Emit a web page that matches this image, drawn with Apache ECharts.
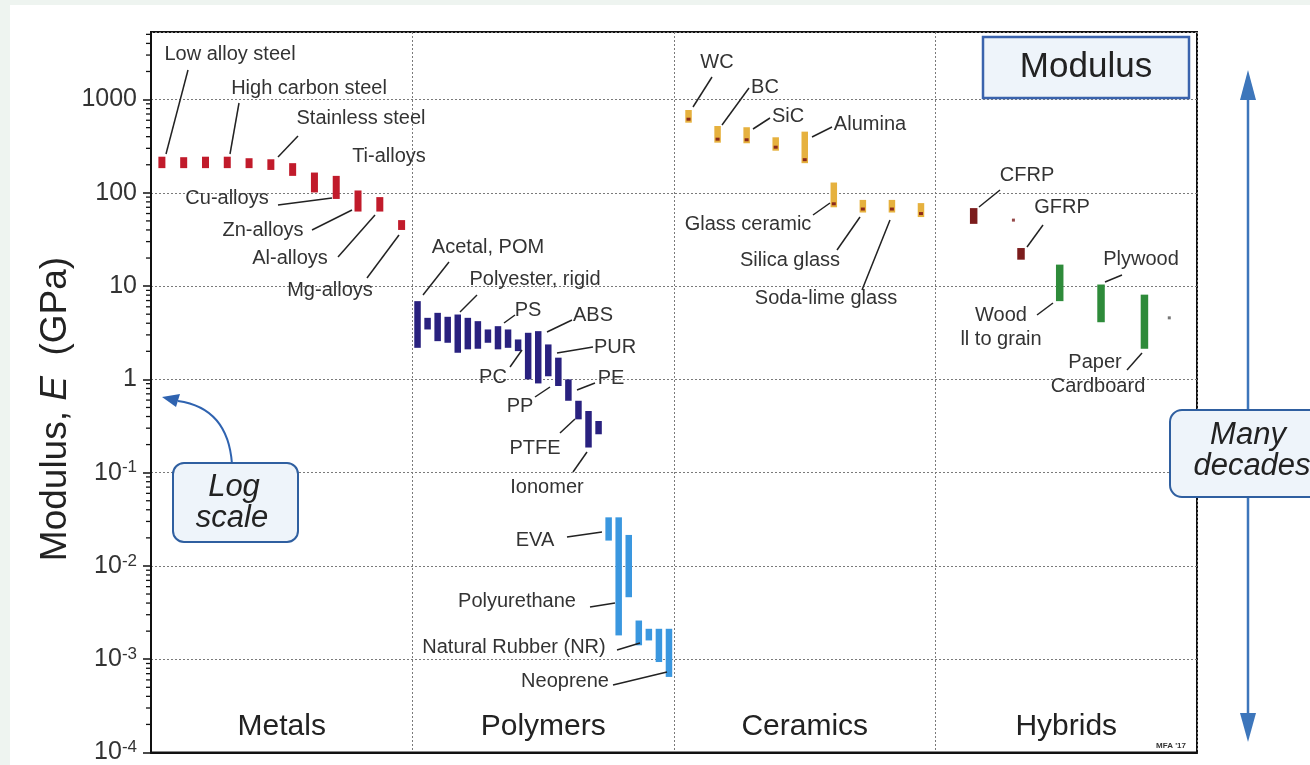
<!DOCTYPE html>
<html><head><meta charset="utf-8">
<script src="https://cdn.jsdelivr.net/npm/echarts@6.0.0/dist/echarts.min.js"></script>
<style>html,body{margin:0;padding:0;background:#fff}#c{width:1310px;height:765px}</style>
</head><body><div id="c"></div>
<script>
// ---------- DATA (Young's modulus E, GPa: low / high of each bar) ----------
const groups = ['Metals', 'Polymers', 'Ceramics', 'Hybrids'];

const metalNames = ['Low alloy steel', 'Carbon steel', 'Cast steel', 'High carbon steel', 'Tool steel', 'Stainless steel',
  'Ni-alloys', 'Ti-alloys', 'Cu-alloys', 'Zn-alloys', 'Al-alloys', 'Mg-alloys'];
const metalLow  = [184, 184, 184, 184, 184, 176, 152, 101, 86, 63, 63, 40];
const metalHigh = [244, 241, 244, 244, 235, 229, 208, 165, 152, 106, 90, 51];

const polymerNames = ['Acetal, POM', 'PA', 'PET', 'Polyester, rigid', 'Epoxy', 'PMMA', 'Phenolic', 'PVC', 'PS', 'PBT',
  'PC', 'ABS', 'PPS', 'PUR', 'PP', 'PE-HD', 'PE', 'PTFE', 'Ionomer'];
const polymerLow  = [2.18, 3.43, 2.57, 2.47, 1.93, 2.10, 2.13, 2.47, 2.10, 2.18, 2.01, 1.0, 0.905, 1.08, 0.85, 0.59, 0.373, 0.186, 0.258];
const polymerHigh = [6.9, 4.57, 5.17, 4.69, 4.96, 4.57, 4.21, 3.43, 3.72, 3.43, 2.68, 3.16, 3.29, 2.37, 1.71, 1.0, 0.59, 0.458, 0.358];

const elastomerNames = ['EVA', 'Polyurethane', 'Silicone', 'Natural Rubber (NR)', 'Butyl rubber', 'Isoprene', 'Neoprene'];
const elastomerLow  = [0.0187, 0.0018, 0.00462, 0.00141, 0.00159, 0.000933, 0.000646];
const elastomerHigh = [0.0332, 0.0332, 0.0215, 0.0026, 0.00212, 0.00212, 0.00212];

const ceramicNames = ['WC', 'BC', 'SiC', 'Si3N4', 'Alumina', 'Glass ceramic', 'Silica glass', 'Soda-lime glass', 'Borosilicate glass'];
const ceramicLow  = [565, 345, 340, 283, 208, 70, 61.5, 61.5, 55];
const ceramicHigh = [773, 521, 505, 394, 453, 129, 84, 84, 77.6];

const compositeNames = ['CFRP', 'GFRP'];
const compositeLow  = [46.5, 19.2];
const compositeHigh = [68.6, 25.6];
const compositeSlot = [0.146, 0.327];      // order within the Hybrids column

const naturalNames = ['Wood II to grain', 'Plywood', 'Paper, Cardboard'];
const naturalLow  = [6.9, 4.1, 2.13];
const naturalHigh = [17, 10.4, 8.1];
const naturalSlot = [0.475, 0.633, 0.799];

const hybridDotNames = ['SMC', 'Cork'];
const hybridDotValue = [51, 4.57];
const hybridDotSlot  = [0.298, 0.894];

// ---------- helpers ----------
const FONT = '"Liberation Sans", Arial, sans-serif';
function bars(names, low, high, groupIdx, slots, n, offset) {
  return low.map((lo, i) => ({
    name: names[i],
    value: [groupIdx + (slots ? slots[i] : ((offset || 0) + i + 0.5) / n), lo, high[i]]
  }));
}
function barRenderer(color, width, marker) {
  return function (params, api) {
    const x = api.value(0), lo = api.value(1), hi = api.value(2);
    const top = api.coord([x, hi]), bot = api.coord([x, lo]);
    const h = Math.max(bot[1] - top[1], 3);
    const children = [{ type: 'rect', shape: { x: top[0] - width / 2, y: top[1], width: width, height: h }, style: { fill: color } }];
    if (marker) children.push({ type: 'rect', shape: { x: top[0] - 2, y: top[1] + h - 5, width: 4, height: 3 }, style: { fill: marker } });
    return { type: 'group', children: children };
  };
}
function customBars(name, data, color, width, marker) {
  return { type: 'custom', name: name, data: data, encode: { x: 0, y: [1, 2] }, renderItem: barRenderer(color, width, marker), z: 5 };
}
const minorTicks = [];
for (let d = -4; d <= 3; d++) for (let k = 2; k <= 9; k++) { const v = k * Math.pow(10, d); if (v < 5300) minorTicks.push(v); }

// ---------- annotations (label text, centre, leader line) ----------
const annotations = [
  ['Low alloy steel', 230, 54, [188, 70, 166, 154]],
  ['High carbon steel', 309, 88, [239, 103, 230, 154]],
  ['Stainless steel', 361, 118, [298, 136, 278, 157]],
  ['Ti-alloys', 389, 156, null],
  ['Cu-alloys', 227, 198, [278, 205, 332, 198]],
  ['Zn-alloys', 263, 230, [312, 230, 352, 210]],
  ['Al-alloys', 290, 258, [338, 257, 375, 215]],
  ['Mg-alloys', 330, 290, [367, 278, 399, 235]],
  ['Acetal, POM', 488, 247, [449, 262, 423, 295]],
  ['Polyester, rigid', 535, 279, [477, 295, 460, 312]],
  ['PS', 528, 310, [515, 315, 504, 323]],
  ['ABS', 593, 315, [572, 320, 547, 332]],
  ['PUR', 615, 347, [593, 347, 557, 353]],
  ['PC', 493, 377, [510, 367, 522, 350]],
  ['PE', 611, 378, [595, 383, 577, 390]],
  ['PP', 520, 406, [535, 397, 550, 387]],
  ['PTFE', 535, 448, [560, 433, 575, 419]],
  ['Ionomer', 547, 487, [573, 472, 587, 452]],
  ['EVA', 535, 540, [567, 537, 602, 532]],
  ['Polyurethane', 517, 601, [590, 607, 615, 603]],
  ['Natural Rubber (NR)', 514, 647, [617, 650, 640, 643]],
  ['Neoprene', 565, 681, [613, 685, 667, 672]],
  ['WC', 717, 62, [712, 77, 693, 107]],
  ['BC', 765, 87, [749, 88, 722, 125]],
  ['SiC', 788, 116, [770, 118, 753, 129]],
  ['Alumina', 870, 124, [832, 127, 812, 137]],
  ['Glass ceramic', 748, 224, [813, 215, 830, 203]],
  ['Silica glass', 790, 260, [837, 250, 860, 217]],
  ['Soda-lime glass', 826, 298, [862, 290, 890, 220]],
  ['CFRP', 1027, 175, [1000, 190, 979, 207]],
  ['GFRP', 1062, 207, [1043, 225, 1027, 247]],
  ['Plywood', 1141, 259, [1122, 275, 1105, 282]],
  ['Wood', 1001, 315, [1037, 315, 1053, 303]],
  ['ll to grain', 1001, 339, null],
  ['Paper', 1095, 362, [1127, 370, 1142, 353]],
  ['Cardboard', 1098, 386, null]
];

const graphics = [
  { type: 'rect', shape: { x: 0, y: 0, width: 1310, height: 5 }, style: { fill: '#eef4f0' }, z: 0 },
  { type: 'rect', shape: { x: 0, y: 0, width: 10, height: 765 }, style: { fill: '#eef4f0' }, z: 0 },
  // y-axis title
  { type: 'text', x: 56, y: 409, rotation: Math.PI / 2, z: 20,
    style: { text: 'Modulus, {i|E}  (GPa)', font: '37px ' + FONT, fill: '#222', align: 'center', verticalAlign: 'middle',
      rich: { i: { fontStyle: 'italic', fontSize: 37, fontFamily: FONT, fill: '#222' } } } },
  // Modulus box
  { type: 'rect', shape: { x: 983, y: 37, width: 206, height: 61 }, style: { fill: '#eef4fa', stroke: '#3a63ad', lineWidth: 2.5 }, z: 20 },
  { type: 'text', x: 1086, y: 67, z: 21, style: { text: 'Modulus', font: '35px ' + FONT, fill: '#222', align: 'center', verticalAlign: 'middle' } },
  // Log scale callout
  { type: 'bezierCurve', shape: { x1: 232, y1: 464, cpx1: 228, cpy1: 408, x2: 178, y2: 401 }, style: { stroke: '#2f63b0', lineWidth: 2, fill: 'none' }, z: 20 },
  { type: 'polygon', shape: { points: [[162, 397], [180, 394], [176, 407]] }, style: { fill: '#2f63b0' }, z: 20 },
  { type: 'rect', shape: { x: 173, y: 463, width: 125, height: 79, r: 11 }, style: { fill: '#eef4fa', stroke: '#2f5fa0', lineWidth: 2 }, z: 20 },
  { type: 'text', x: 234, y: 487, z: 21, style: { text: 'Log', font: 'italic 31px ' + FONT, fill: '#222', align: 'center', verticalAlign: 'middle' } },
  { type: 'text', x: 232, y: 518, z: 21, style: { text: 'scale', font: 'italic 31px ' + FONT, fill: '#222', align: 'center', verticalAlign: 'middle' } },
  // Many decades double arrow
  { type: 'line', shape: { x1: 1248, y1: 95, x2: 1248, y2: 718 }, style: { stroke: '#3d76bb', lineWidth: 2.5 }, z: 20 },
  { type: 'polygon', shape: { points: [[1248, 70], [1256, 100], [1240, 100]] }, style: { fill: '#3d76bb' }, z: 20 },
  { type: 'polygon', shape: { points: [[1248, 742], [1256, 713], [1240, 713]] }, style: { fill: '#3d76bb' }, z: 20 },
  { type: 'rect', shape: { x: 1170, y: 410, width: 160, height: 87, r: 12 }, style: { fill: '#eef4fa', stroke: '#2f5fa0', lineWidth: 2 }, z: 22 },
  { type: 'text', x: 1248, y: 435, z: 23, style: { text: 'Many', font: 'italic 31px ' + FONT, fill: '#222', align: 'center', verticalAlign: 'middle' } },
  { type: 'text', x: 1252, y: 466, z: 23, style: { text: 'decades', font: 'italic 31px ' + FONT, fill: '#222', align: 'center', verticalAlign: 'middle' } },
  { type: 'text', x: 1171, y: 746, z: 21, style: { text: "MFA '17", font: 'bold 8px ' + FONT, fill: '#333', align: 'center', verticalAlign: 'middle' } }
];
annotations.forEach(a => {
  graphics.push({ type: 'text', x: a[1], y: a[2], z: 15,
    style: { text: a[0], font: '20px ' + FONT, fill: '#333', align: 'center', verticalAlign: 'middle' } });
  if (a[3]) graphics.push({ type: 'line', shape: { x1: a[3][0], y1: a[3][1], x2: a[3][2], y2: a[3][3] },
    style: { stroke: '#222', lineWidth: 1.5 }, z: 15 });
});

// ---------- chart ----------
const chart = echarts.init(document.getElementById('c'), null, { renderer: 'canvas' });
chart.setOption({
  backgroundColor: '#ffffff',
  animation: false,
  grid: { left: 151, right: 113, top: 32, bottom: 11, show: true, backgroundColor: '#fff', borderColor: '#111', borderWidth: 2 },
  xAxis: [
    { type: 'value', min: 0, max: 4, interval: 1, axisLabel: { show: false }, axisTick: { show: false },
      axisLine: { show: true, lineStyle: { color: '#111', width: 2 } },
      splitLine: { show: true, lineStyle: { color: '#7a7a7a', type: [2, 2], width: 1 } } },
    { type: 'category', data: groups, position: 'bottom', boundaryGap: true,
      axisLine: { show: false }, axisTick: { show: false }, splitLine: { show: false },
      axisLabel: { inside: true, margin: 11, fontSize: 30, fontFamily: FONT, color: '#222' } }
  ],
  yAxis: {
    type: 'log', logBase: 10, min: 1e-4, max: 5300,
    axisLine: { show: true, lineStyle: { color: '#111', width: 2 } },
    axisTick: { show: true, length: 8, lineStyle: { color: '#111', width: 1.5 } },
    splitLine: { show: true, lineStyle: { color: '#7a7a7a', type: [2, 2], width: 1 } },
    axisLabel: {
      margin: 14, fontSize: 25, fontFamily: FONT, color: '#333', showMaxLabel: false,
      formatter: function (v) {
        const l = Math.log10(v), e = Math.round(l);
        if (Math.abs(l - e) > 1e-6) return '';
        if (e >= 0) return String(Math.round(v));
        return '10{sup|' + e + '}';
      },
      rich: { sup: { fontSize: 17, fontFamily: FONT, color: '#333', padding: [0, 0, 10, 0] } }
    }
  },
  graphic: graphics,
  series: [
    { type: 'custom', name: 'minor ticks', data: minorTicks.map(v => [0, v]), encode: { x: 0, y: 1 }, clip: false, silent: true, z: 6,
      renderItem: function (params, api) {
        const p = api.coord([0, api.value(1)]);
        return { type: 'line', shape: { x1: p[0] - 5, y1: p[1], x2: p[0], y2: p[1] }, style: { stroke: '#111', lineWidth: 1.3 } };
      } },
    customBars('Metals', bars(metalNames, metalLow, metalHigh, 0, null, 12), '#c11b2b', 7),
    customBars('Polymers', bars(polymerNames, polymerLow, polymerHigh, 1, null, 26, 0), '#29217f', 6.5),
    customBars('Elastomers', bars(elastomerNames, elastomerLow, elastomerHigh, 1, null, 26, 19), '#3a97df', 6.5),
    customBars('Ceramics', bars(ceramicNames, ceramicLow, ceramicHigh, 2, null, 9), '#e6b13e', 6.5, '#8c2a1a'),
    customBars('Composites', bars(compositeNames, compositeLow, compositeHigh, 3, compositeSlot), '#7b1c1c', 7.5),
    customBars('Natural materials', bars(naturalNames, naturalLow, naturalHigh, 3, naturalSlot), '#2e8b3a', 7.5),
    { type: 'scatter', name: 'Other hybrids', symbol: 'rect', symbolSize: 3, z: 5,
      data: hybridDotValue.map((v, i) => ({ name: hybridDotNames[i], value: [3 + hybridDotSlot[i], v],
        itemStyle: { color: i === 0 ? '#7b1c1c' : '#555' } })) }
  ]
});
</script>
</body></html>
